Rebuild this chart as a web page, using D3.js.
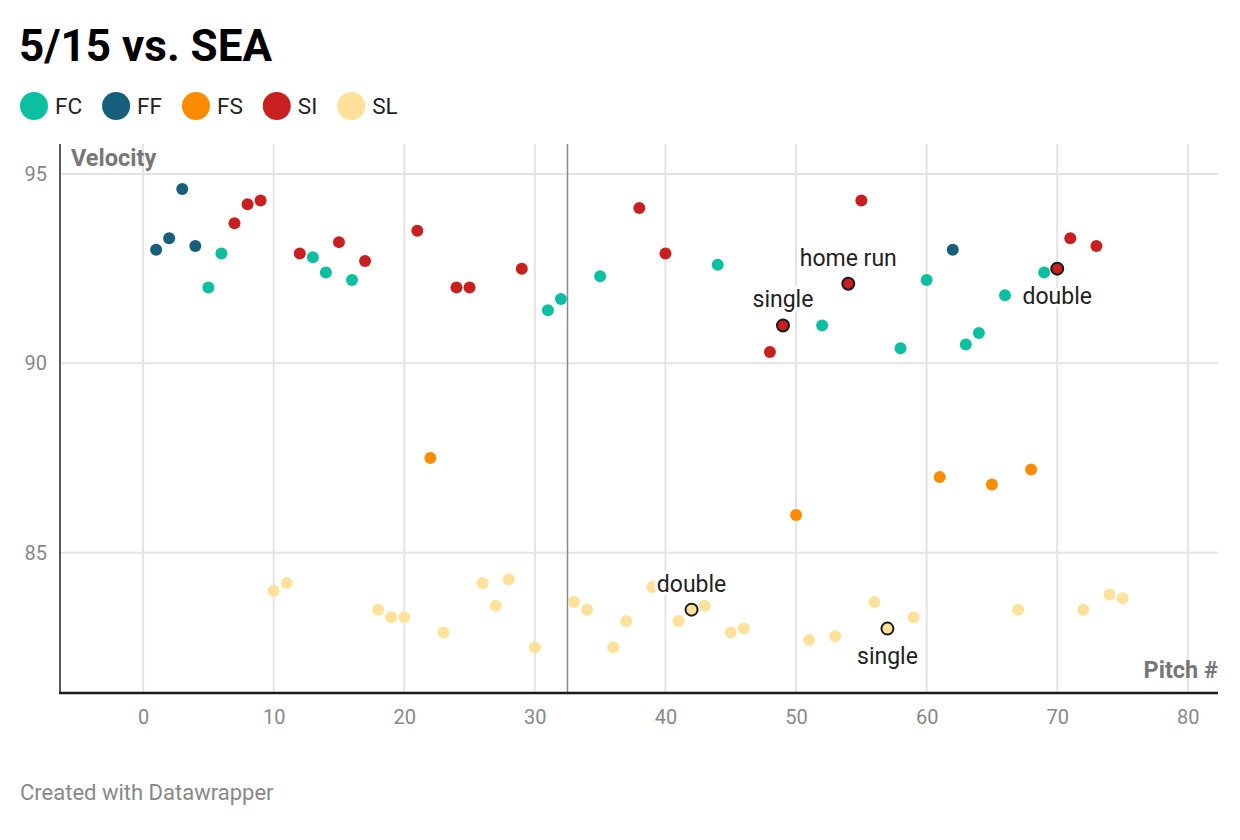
<!DOCTYPE html>
<html><head><meta charset="utf-8">
<script src="https://cdn.jsdelivr.net/npm/d3@7"></script>
<style>
body{margin:0;background:#fff;font-family:Roboto,"Noto Sans",sans-serif;}
svg text{font-family:Roboto,"Noto Sans",sans-serif;}
</style></head>
<body>
<svg id="chart" width="1240" height="840"></svg>
<script>
const pitchTypes = ["FC","FF","FS","SI","SL"];
const typeColors = ["#0bbfa0","#175e7a","#fb8c00","#c81f1f","#fee29b"];

const fcPitch = [5,6,13,14,16,31,32,35,44,52,58,60,63,64,66,69];
const fcVelo  = [92.0,92.9,92.8,92.4,92.2,91.4,91.7,92.3,92.6,91.0,90.4,92.2,90.5,90.8,91.8,92.4];
const ffPitch = [1,2,3,4,62];
const ffVelo  = [93.0,93.3,94.6,93.1,93.0];
const fsPitch = [22,50,61,65,68];
const fsVelo  = [87.5,86.0,87.0,86.8,87.2];
const siPitch = [7,8,9,12,15,17,21,24,25,29,38,40,48,49,54,55,70,71,73];
const siVelo  = [93.7,94.2,94.3,92.9,93.2,92.7,93.5,92.0,92.0,92.5,94.1,92.9,90.3,91.0,92.1,94.3,92.5,93.3,93.1];
const slPitch = [10,11,18,19,20,23,26,27,28,30,33,34,36,37,39,41,42,43,45,46,51,53,56,57,59,67,72,74,75];
const slVelo  = [84.0,84.2,83.5,83.3,83.3,82.9,84.2,83.6,84.3,82.5,83.7,83.5,82.5,83.2,84.1,83.2,83.5,83.6,82.9,83.0,82.7,82.8,83.7,83.0,83.3,83.5,83.5,83.9,83.8];

const hitPitch = [49,54,70,42,57];
const hitLabel = ["single","home run","double","double","single"];
const hitPos   = ["above","above","below","above","below"];

const xTicks = [0,10,20,30,40,50,60,70,80];
const yTicks = [85,90,95];
const splitPitch = 32.5;

const seriesPitch = [fcPitch,ffPitch,fsPitch,siPitch,slPitch];
const seriesVelo = [fcVelo,ffVelo,fsVelo,siVelo,slVelo];
const points = [];
pitchTypes.forEach((t,i)=>{
  seriesPitch[i].forEach((p,j)=>points.push({type:t,pitch:p,velo:seriesVelo[i][j],color:typeColors[i]}));
});

const svg = d3.select("#chart");
const pL=60,pR=1218,pT=144,pB=693;
const x = d3.scaleLinear().domain([-6.36,82.31]).range([pL,pR]);
const y = d3.scaleLinear().domain([81.30,95.79]).range([pB,pT]);

// Title
svg.append("text").attr("x",19).attr("y",61).attr("font-size",44).attr("font-weight",700).attr("fill","#000").text("5/15 vs. SEA");

// Legend
let lx = 20;
const leg = svg.append("g");
pitchTypes.forEach((t,i)=>{
  leg.append("circle").attr("cx",lx+14).attr("cy",106).attr("r",14).attr("fill",typeColors[i]);
  const tx = leg.append("text").attr("x",lx+35).attr("y",114).attr("font-size",22.5).attr("fill","#222").text(t);
  const w = tx.node().getComputedTextLength();
  lx = lx+35+w+20;
});

// Grid
const g = svg.append("g");
g.selectAll(".vg").data(xTicks).join("line").attr("x1",d=>x(d)).attr("x2",d=>x(d)).attr("y1",pT).attr("y2",pB).attr("stroke","#e4e4e4").attr("stroke-width",2);
g.selectAll(".hg").data(yTicks).join("line").attr("x1",pL).attr("x2",pR).attr("y1",d=>y(d)).attr("y2",d=>y(d)).attr("stroke","#e4e4e4").attr("stroke-width",2);

// Axes via d3
const xAxis = d3.axisBottom(x).tickValues(xTicks).tickSize(0).tickPadding(17);
const xg = svg.append("g").attr("transform",`translate(0,${pB})`).call(xAxis);
xg.select(".domain").remove();
xg.selectAll("text").attr("font-size",20).attr("fill","#888").attr("font-family","Roboto");
const yAxis = d3.axisLeft(y).tickValues(yTicks).tickSize(0).tickPadding(13);
const yg = svg.append("g").attr("transform",`translate(${pL},0)`).call(yAxis);
yg.select(".domain").remove();
yg.selectAll("text").attr("font-size",20).attr("fill","#888").attr("font-family","Roboto");

// Split line
svg.append("line").attr("x1",x(splitPitch)).attr("x2",x(splitPitch)).attr("y1",pT).attr("y2",pB).attr("stroke","#888").attr("stroke-width",1.5);

// Axis lines
svg.append("line").attr("x1",pL).attr("x2",pL).attr("y1",pT).attr("y2",pB).attr("stroke","#222").attr("stroke-width",1.5);
svg.append("line").attr("x1",pL-1).attr("x2",pR).attr("y1",pB).attr("y2",pB).attr("stroke","#1a1a1a").attr("stroke-width",2.5);

// Axis titles
svg.append("text").attr("x",71).attr("y",166).attr("font-size",23.5).attr("font-weight",700).attr("fill","#777").text("Velocity");
svg.append("text").attr("x",pR).attr("y",678).attr("text-anchor","end").attr("font-size",23.5).attr("font-weight",700).attr("fill","#777").text("Pitch #");

// Points
svg.append("g").selectAll("circle").data(points).join("circle")
  .attr("cx",d=>x(d.pitch)).attr("cy",d=>y(d.velo)).attr("r",6).attr("fill",d=>d.color);

// Highlights & labels
const hl = svg.append("g");
hitPitch.forEach((p,i)=>{
  const d = points.find(q=>q.pitch===p);
  const cx=x(d.pitch), cy=y(d.velo);
  const ty = hitPos[i]==="above" ? cy-18 : cy+35;
  hl.append("text").attr("x",cx).attr("y",ty).attr("text-anchor","middle").attr("font-size",23)
    .attr("fill","#222").attr("stroke","#fff").attr("stroke-width",6).attr("stroke-linejoin","round")
    .attr("paint-order","stroke").text(hitLabel[i]);
  hl.append("circle").attr("cx",cx).attr("cy",cy).attr("r",6).attr("fill",d.color).attr("stroke","#1a1a1a").attr("stroke-width",2);
});

// Footer
svg.append("text").attr("x",20).attr("y",800).attr("font-size",22).attr("fill","#888").text("Created with Datawrapper");
</script>
</body></html>
